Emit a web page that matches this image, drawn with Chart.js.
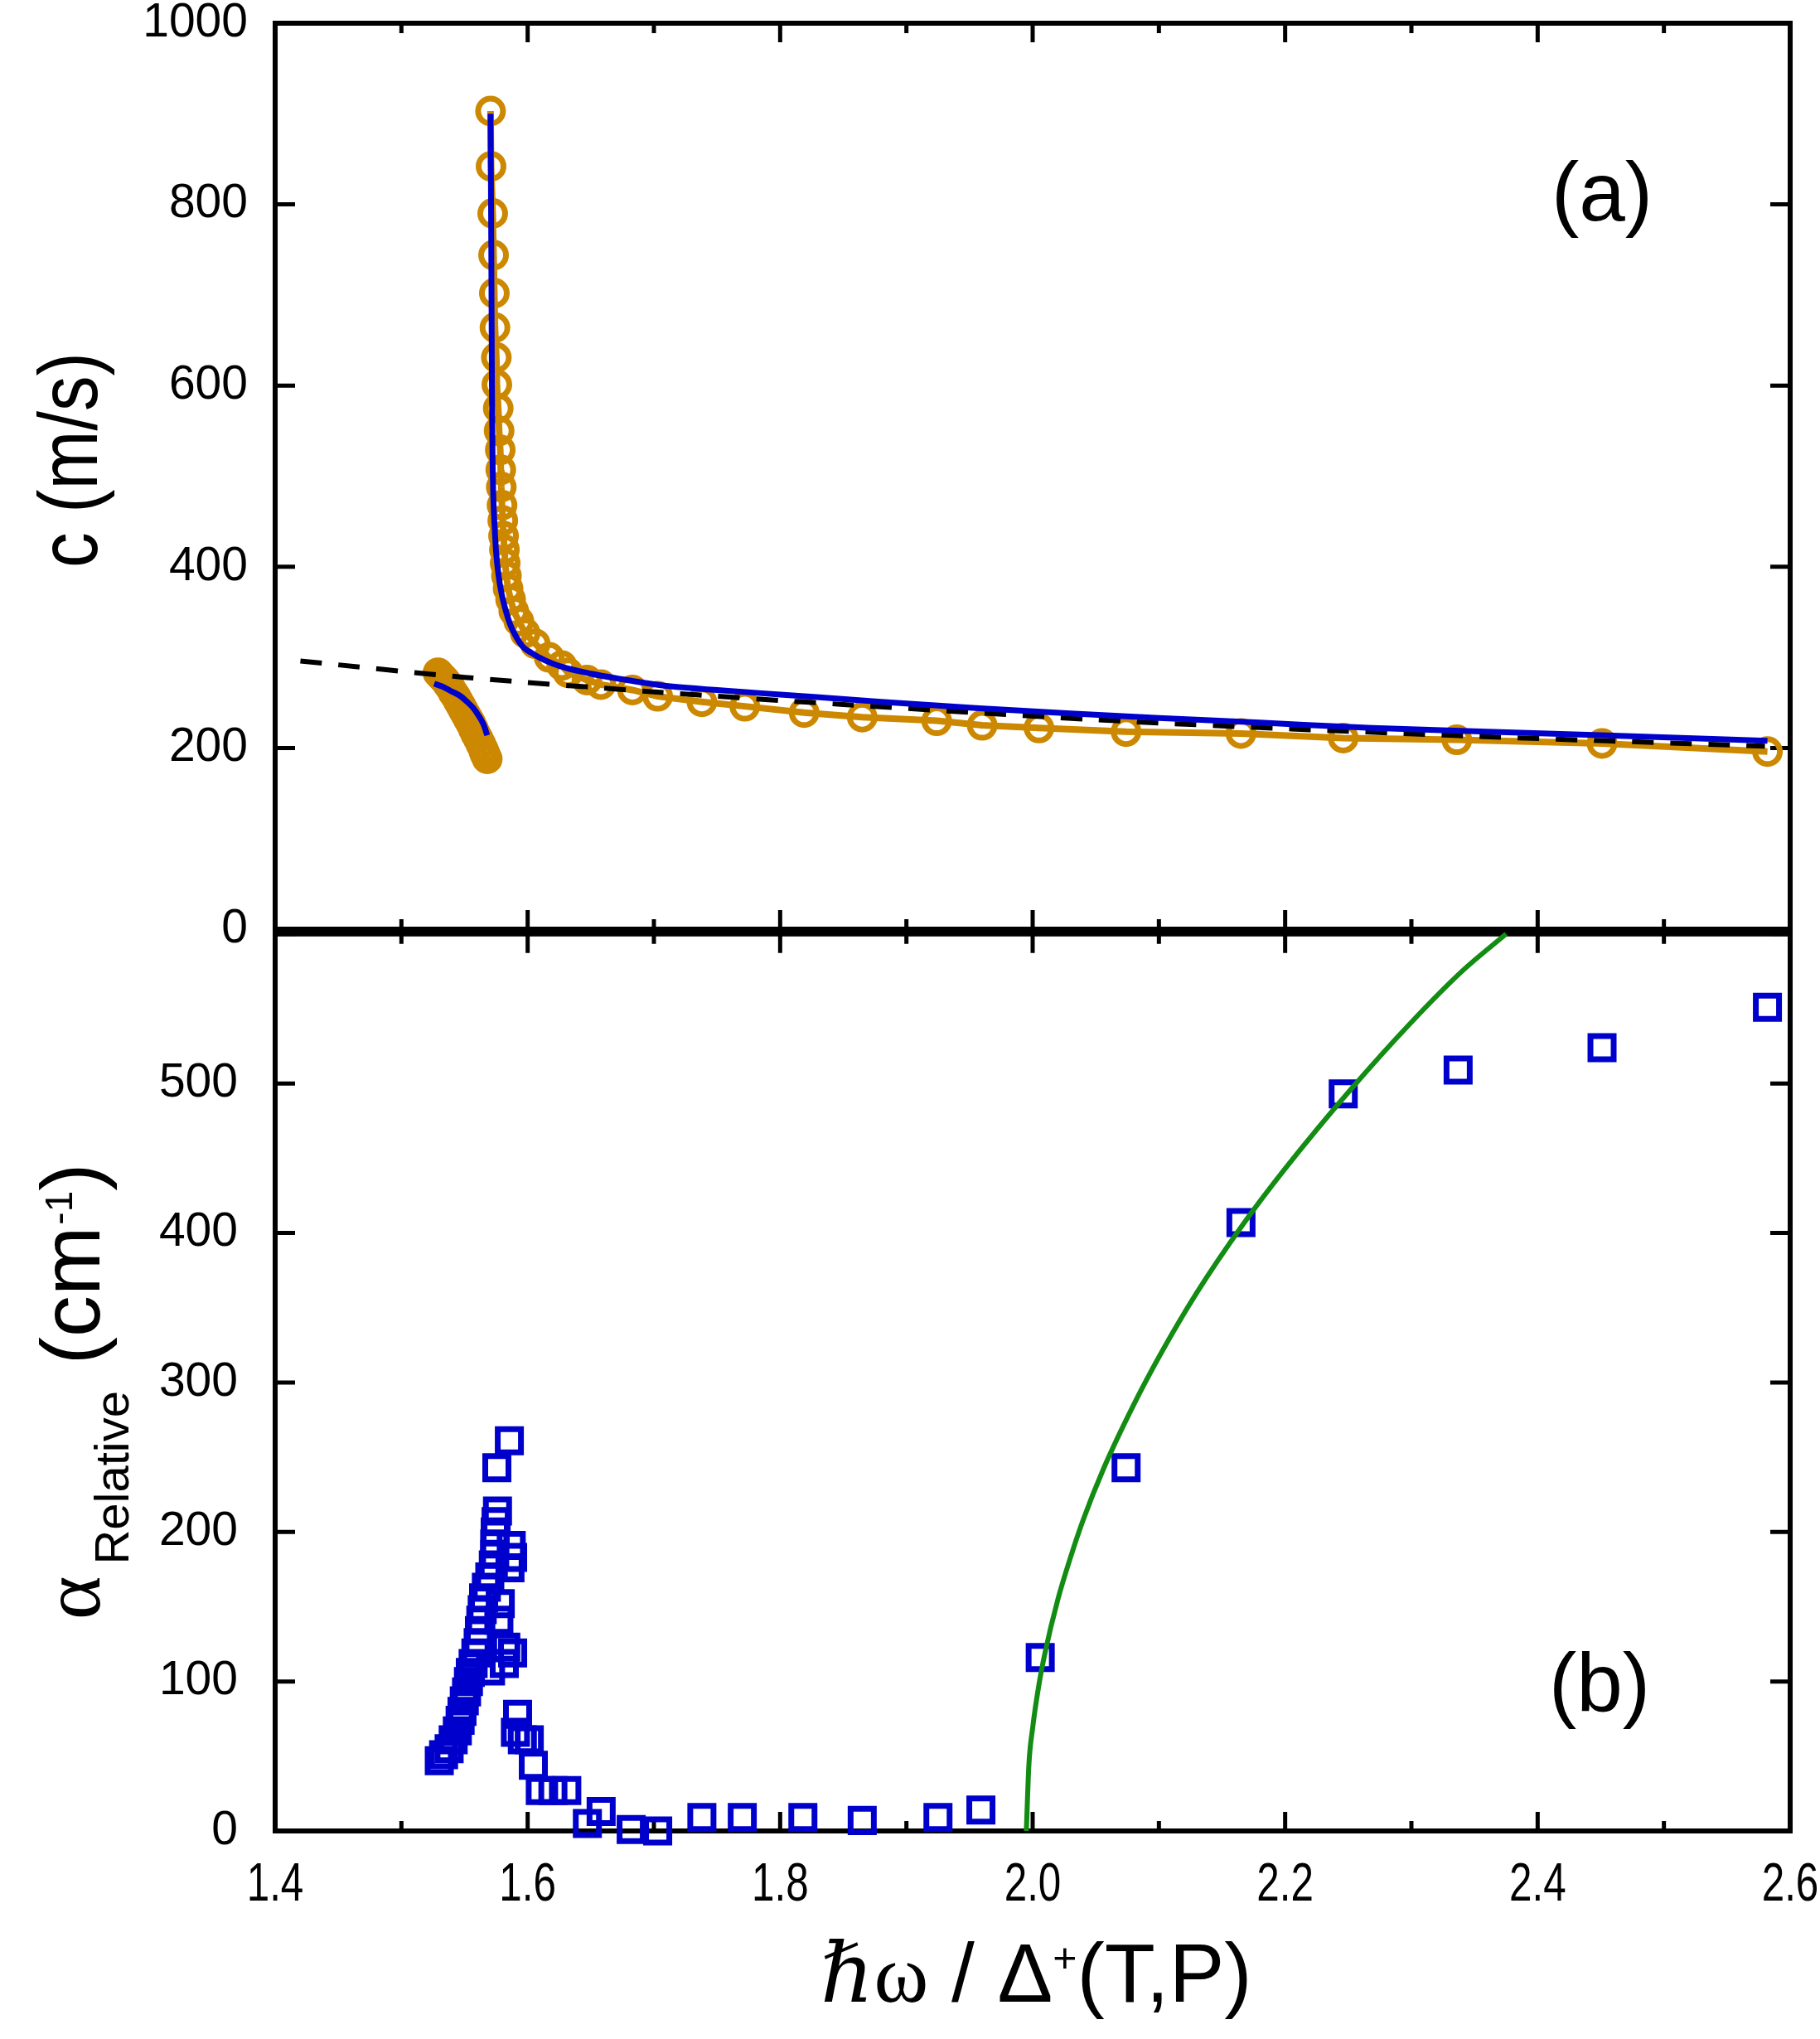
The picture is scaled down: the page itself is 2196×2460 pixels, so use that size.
<!DOCTYPE html>
<html>
<head>
<meta charset="utf-8">
<script src="https://cdn.jsdelivr.net/npm/chart.js@4.4.0/dist/chart.umd.min.js"></script>
<style>
  html, body { margin: 0; padding: 0; background: #fff; }
  #wrap { position: relative; width: 2196px; height: 2460px; }
  canvas { position: absolute; left: 0; }
  #topChart { top: 0; }
  #botChart { top: 1100px; }
</style>
</head>
<body>
<div id="wrap">
  <canvas id="topChart" width="2196" height="1160"></canvas>
  <canvas id="botChart" width="2196" height="1360"></canvas>
</div>
<script>
const orange = "#CC8800";
const blue = "#0000CC";
const green = "#128C12";
const SANS = px => px + 'px "Liberation Sans", Arial, Helvetica, sans-serif';
const SERIF = px => px + 'px "Liberation Serif", "DejaVu Serif", serif';

// (a) sound speed c (m/s) - measured points, lower branch (dense band)
const cLowX = [1.529, 1.531, 1.533, 1.535, 1.537, 1.539, 1.541, 1.543, 1.545, 1.547, 1.549,
  1.551, 1.553, 1.555, 1.557, 1.559, 1.561, 1.563, 1.565, 1.566, 1.567, 1.568];
const cLowY = [283, 280, 277, 274, 270, 266, 261, 257, 252, 247, 242,
  237, 232, 227, 221, 215, 210, 204, 198, 194, 191, 188];

// (a) measured points, upper branch
const cHighX = [1.5706, 1.5710, 1.5723, 1.5730, 1.5736, 1.5741, 1.5752, 1.5756, 1.5767, 1.5774,
  1.5783, 1.5787, 1.5791, 1.5797, 1.5803, 1.5809, 1.5816, 1.5822, 1.5832, 1.5845, 1.5865,
  1.589, 1.593, 1.598, 1.606, 1.617, 1.627, 1.632, 1.647, 1.658, 1.683, 1.703, 1.738,
  1.772, 1.819, 1.865, 1.924, 1.960, 2.005, 2.074, 2.165, 2.246, 2.336, 2.451, 2.582];
const cHighY = [903, 842, 790, 744, 702, 664, 631, 601, 575, 550,
  529, 507, 488, 468, 451, 434, 419, 404, 390, 376, 364,
  351, 340, 327, 315, 300, 291, 283, 275, 270, 264, 257, 251,
  246, 239, 234, 230, 225, 222, 218, 216, 211, 209, 205, 196];

// (a) blue model curve
const fitHighX = [1.5706, 1.5712, 1.5717, 1.5722, 1.5728, 1.574, 1.575, 1.577, 1.5794, 1.583,
  1.586, 1.590, 1.596, 1.603, 1.609, 1.620, 1.631, 1.650, 1.670, 1.707, 1.750, 1.800,
  1.880, 1.955, 2.030, 2.100, 2.180, 2.269, 2.360, 2.450, 2.582];
const fitHighY = [900, 750, 600, 520, 477, 440, 416, 390, 370, 350,
  337, 325, 312, 305, 300, 293, 288, 282, 277, 269, 264, 259,
  251, 244, 238, 233, 228, 222, 218, 214, 208];
const fitLowX = [1.526, 1.532, 1.539, 1.546, 1.552, 1.557, 1.561, 1.565, 1.568];
const fitLowY = [271, 268, 263, 258, 251, 244, 236, 226, 214];

// (a) black dashed curve
const dashX = [1.42, 1.55, 1.70, 1.85, 2.08, 2.33, 2.58];
const dashY = [296, 278, 262, 248, 229, 214, 202];

// (b) relative attenuation (cm^-1), blue squares
const alphaX = [1.530, 1.5334, 1.5378, 1.541, 1.5443, 1.5465, 1.548, 1.5498, 1.5516, 1.5531,
  1.5546, 1.5568, 1.559, 1.5608, 1.5618, 1.5629, 1.564, 1.5651, 1.5673, 1.570, 1.5728,
  1.5739, 1.5739, 1.5743, 1.575, 1.5761, 1.5756, 1.5855,
  1.587, 1.5881, 1.586, 1.5783, 1.5772, 1.5827, 1.5881, 1.5815, 1.5706,
  1.592, 1.5903, 1.5958, 1.6013, 1.6045, 1.610, 1.620, 1.631, 1.6473, 1.6582, 1.682, 1.703,
  1.738, 1.770, 1.818, 1.865, 1.925, 1.959, 2.006, 2.074, 2.165, 2.246, 2.337, 2.451, 2.582];
const alphaY = [47, 51, 55, 61, 67, 74, 80, 87, 93, 100,
  106, 112, 119, 126, 134, 141, 148, 156, 163, 170, 178,
  185, 192, 200, 207, 214, 243, 261,
  191, 183, 176, 152, 141, 123, 119, 112, 107,
  78, 66, 61, 61, 44, 27, 27, 27, 5, 13, 1, 0,
  9, 9, 9, 7, 9, 14, 116, 243, 407, 493, 509, 524, 551];

// (b) green curve
const greenX = [1.995, 1.997, 2.000, 2.005, 2.010, 2.020, 2.030, 2.040, 2.056, 2.080,
  2.102, 2.130, 2.166, 2.200, 2.253, 2.300, 2.340, 2.375];
const greenY = [0, 44, 69, 98, 120, 155, 183, 208, 242, 285,
  320, 360, 405, 443, 497, 541, 575, 600];

const xMin = 1.4, xMax = 2.6;
const xTickVals = [1.4, 1.6, 1.8, 2.0, 2.2, 2.4, 2.6];
const topYMax = 1000, topYStep = 200;
const botYMax = 600, botYStep = 100;

const pts = (xs, ys) => xs.map((x, i) => ({ x: x, y: ys[i] }));

// keep the plot area exactly where the layout padding puts it
const noPad = s => { s.paddingTop = 0; s.paddingBottom = 0; s.paddingLeft = 0; s.paddingRight = 0; };

// nudge layout padding until the plot area sits where we want it
function fitArea(chart, want) {
  for (let i = 0; i < 2; i++) {
    const a = chart.chartArea;
    const p = chart.options.layout.padding;
    p.top += want.top - a.top;
    p.bottom += a.bottom - want.bottom;
    p.right += a.right - want.right;
    chart.update();
  }
}

// frame with inward ticks on all four sides
const frame = {
  id: "frame",
  beforeDatasetsDraw(chart, args, opts) {
    const { ctx, chartArea: a, scales } = chart;
    const x = scales.x, y = scales.y;
    ctx.save();
    ctx.strokeStyle = "#000";
    ctx.lineWidth = 5;
    ctx.beginPath();
    for (let k = 14; k <= 26; k++) {
      const px = x.getPixelForValue(k / 10);
      const len = k % 2 === 0 ? 23 : 12;
      ctx.moveTo(px, a.top); ctx.lineTo(px, a.top + len);
      ctx.moveTo(px, a.bottom); ctx.lineTo(px, a.bottom - len);
    }
    for (let v = 0; v <= opts.yMax; v += opts.yStep) {
      const py = y.getPixelForValue(v);
      ctx.moveTo(a.left, py); ctx.lineTo(a.left + 24, py);
      ctx.moveTo(a.right, py); ctx.lineTo(a.right - 24, py);
    }
    ctx.stroke();
    ctx.lineWidth = 6;
    ctx.strokeRect(a.left, a.top, a.right - a.left, a.bottom - a.top);
    ctx.restore();
  }
};

const topText = {
  id: "topText",
  afterDraw(chart) {
    const ctx = chart.ctx;
    ctx.save();
    ctx.fillStyle = "#000";
    ctx.font = SANS(100);
    ctx.textBaseline = "alphabetic";
    ctx.textAlign = "center";
    ctx.fillText("(a)", 1933, 266);
    ctx.translate(117, 555);
    ctx.rotate(-Math.PI / 2);
    ctx.scale(0.85, 1);
    ctx.fillText("c (m/s)", 0, 0);
    ctx.restore();
  }
};

const botText = {
  id: "botText",
  afterDraw(chart) {
    const ctx = chart.ctx;
    const xs = chart.scales.x;
    ctx.save();
    ctx.fillStyle = "#000";
    ctx.textBaseline = "alphabetic";
    ctx.textAlign = "center";
    ctx.font = SANS(100);
    ctx.fillText("(b)", 1930, 965);

    // x tick labels (narrow face, as in the original)
    ctx.font = SANS(65);
    xTickVals.forEach(v => {
      ctx.save();
      ctx.translate(xs.getPixelForValue(v), 1193);
      ctx.scale(0.76, 1);
      ctx.fillText(v.toFixed(1), 0, 0);
      ctx.restore();
    });

    // x title
    ctx.textAlign = "left";
    let cx = 990;
    const piece = (txt, font, dy) => {
      ctx.font = font;
      ctx.fillText(txt, cx, 1315 + (dy || 0));
      cx += ctx.measureText(txt).width;
    };
    piece("\u210F", "italic " + SERIF(100));
    piece("\u03C9", SERIF(100));
    piece(" / \u0394", SANS(100));
    piece("+", SANS(50), -36);
    piece("(T,P)", SANS(100));

    // y title (rotated)
    ctx.translate(120, 854);
    ctx.rotate(-Math.PI / 2);
    let tx = 0;
    const rpiece = (txt, font, dy, gap) => {
      ctx.font = font;
      ctx.fillText(txt, tx, dy || 0);
      tx += ctx.measureText(txt).width + (gap || 0);
    };
    rpiece("\u03B1", SERIF(100), 0, 14);
    rpiece("Relative", SANS(58), 35, 4);
    rpiece(" (cm", SANS(100), 0, 2);
    rpiece("-1", SANS(46), -33, 0);
    rpiece(")", SANS(100), 0, 0);
    ctx.restore();
  }
};

const yTickFont = { family: '"Liberation Sans", Arial, sans-serif', size: 57 };
const circleStyle = { pointRadius: 15, pointBorderWidth: 7, pointBorderColor: orange,
  pointBackgroundColor: "rgba(0,0,0,0)" };

const topChart = new Chart(document.getElementById("topChart"), {
  type: "scatter",
  data: {
    datasets: [
      { data: pts(fitHighX, fitHighY), showLine: true, borderColor: blue, borderWidth: 7,
        pointRadius: 0, cubicInterpolationMode: "monotone", clip: false },
      { data: pts(fitLowX, fitLowY), showLine: true, borderColor: blue, borderWidth: 7,
        pointRadius: 0, cubicInterpolationMode: "monotone", clip: false },
      { data: pts(dashX, dashY), showLine: true, borderColor: "#000", borderWidth: 6,
        borderDash: [26, 20], pointRadius: 0, tension: 0.3, clip: false },
      Object.assign({ data: pts(cHighX, cHighY), showLine: true, borderColor: orange,
        borderWidth: 8, clip: false }, circleStyle),
      Object.assign({ data: pts(cLowX, cLowY), showLine: true, borderColor: orange,
        borderWidth: 8, clip: false }, circleStyle)
    ]
  },
  options: {
    responsive: false,
    animation: false,
    events: [],
    layout: { padding: { left: 0, right: 36, top: 28, bottom: 39 } },
    plugins: {
      legend: { display: false },
      tooltip: { enabled: false },
      frame: { yMax: topYMax, yStep: topYStep }
    },
    scales: {
      x: { type: "linear", min: xMin, max: xMax, display: false },
      y: {
        min: 0, max: topYMax,
        ticks: { stepSize: topYStep, padding: 33, color: "#000", font: yTickFont,
          callback: v => String(v) },
        grid: { display: false, drawTicks: false },
        border: { display: false },
        afterFit: s => { s.width = 332; noPad(s); }
      }
    }
  },
  plugins: [frame, topText]
});

const botChart = new Chart(document.getElementById("botChart"), {
  type: "scatter",
  data: {
    datasets: [
      { data: pts(greenX, greenY), showLine: true, borderColor: green, borderWidth: 6,
        pointRadius: 0, cubicInterpolationMode: "monotone", clip: false },
      { data: pts(alphaX, alphaY), showLine: false, pointStyle: "rect",
        pointRadius: 19.8, pointBorderWidth: 7, pointBorderColor: blue,
        pointBackgroundColor: "rgba(0,0,0,0)", clip: false }
    ]
  },
  options: {
    responsive: false,
    animation: false,
    events: [],
    layout: { padding: { left: 0, right: 36, top: 21, bottom: 0 } },
    plugins: {
      legend: { display: false },
      tooltip: { enabled: false },
      frame: { yMax: botYMax, yStep: botYStep }
    },
    scales: {
      x: {
        type: "linear", min: xMin, max: xMax,
        ticks: { display: false },
        grid: { display: false, drawTicks: false },
        border: { display: false },
        afterFit: s => { s.height = 251; noPad(s); }
      },
      y: {
        min: 0, max: botYMax,
        ticks: {
          stepSize: botYStep, padding: 45, color: "#000", font: yTickFont,
          callback: v => (v >= botYMax ? "" : String(v))
        },
        grid: { display: false, drawTicks: false },
        border: { display: false },
        afterFit: s => { s.width = 332; noPad(s); }
      }
    }
  },
  plugins: [frame, botText]
});

// plot areas: top panel 28..1121, bottom panel 1121..2209 (page px), x from 332 to 2160
fitArea(topChart, { top: 28, bottom: 1121, right: 2160 });
fitArea(botChart, { top: 21, bottom: 1109, right: 2160 });
</script>
</body>
</html>
